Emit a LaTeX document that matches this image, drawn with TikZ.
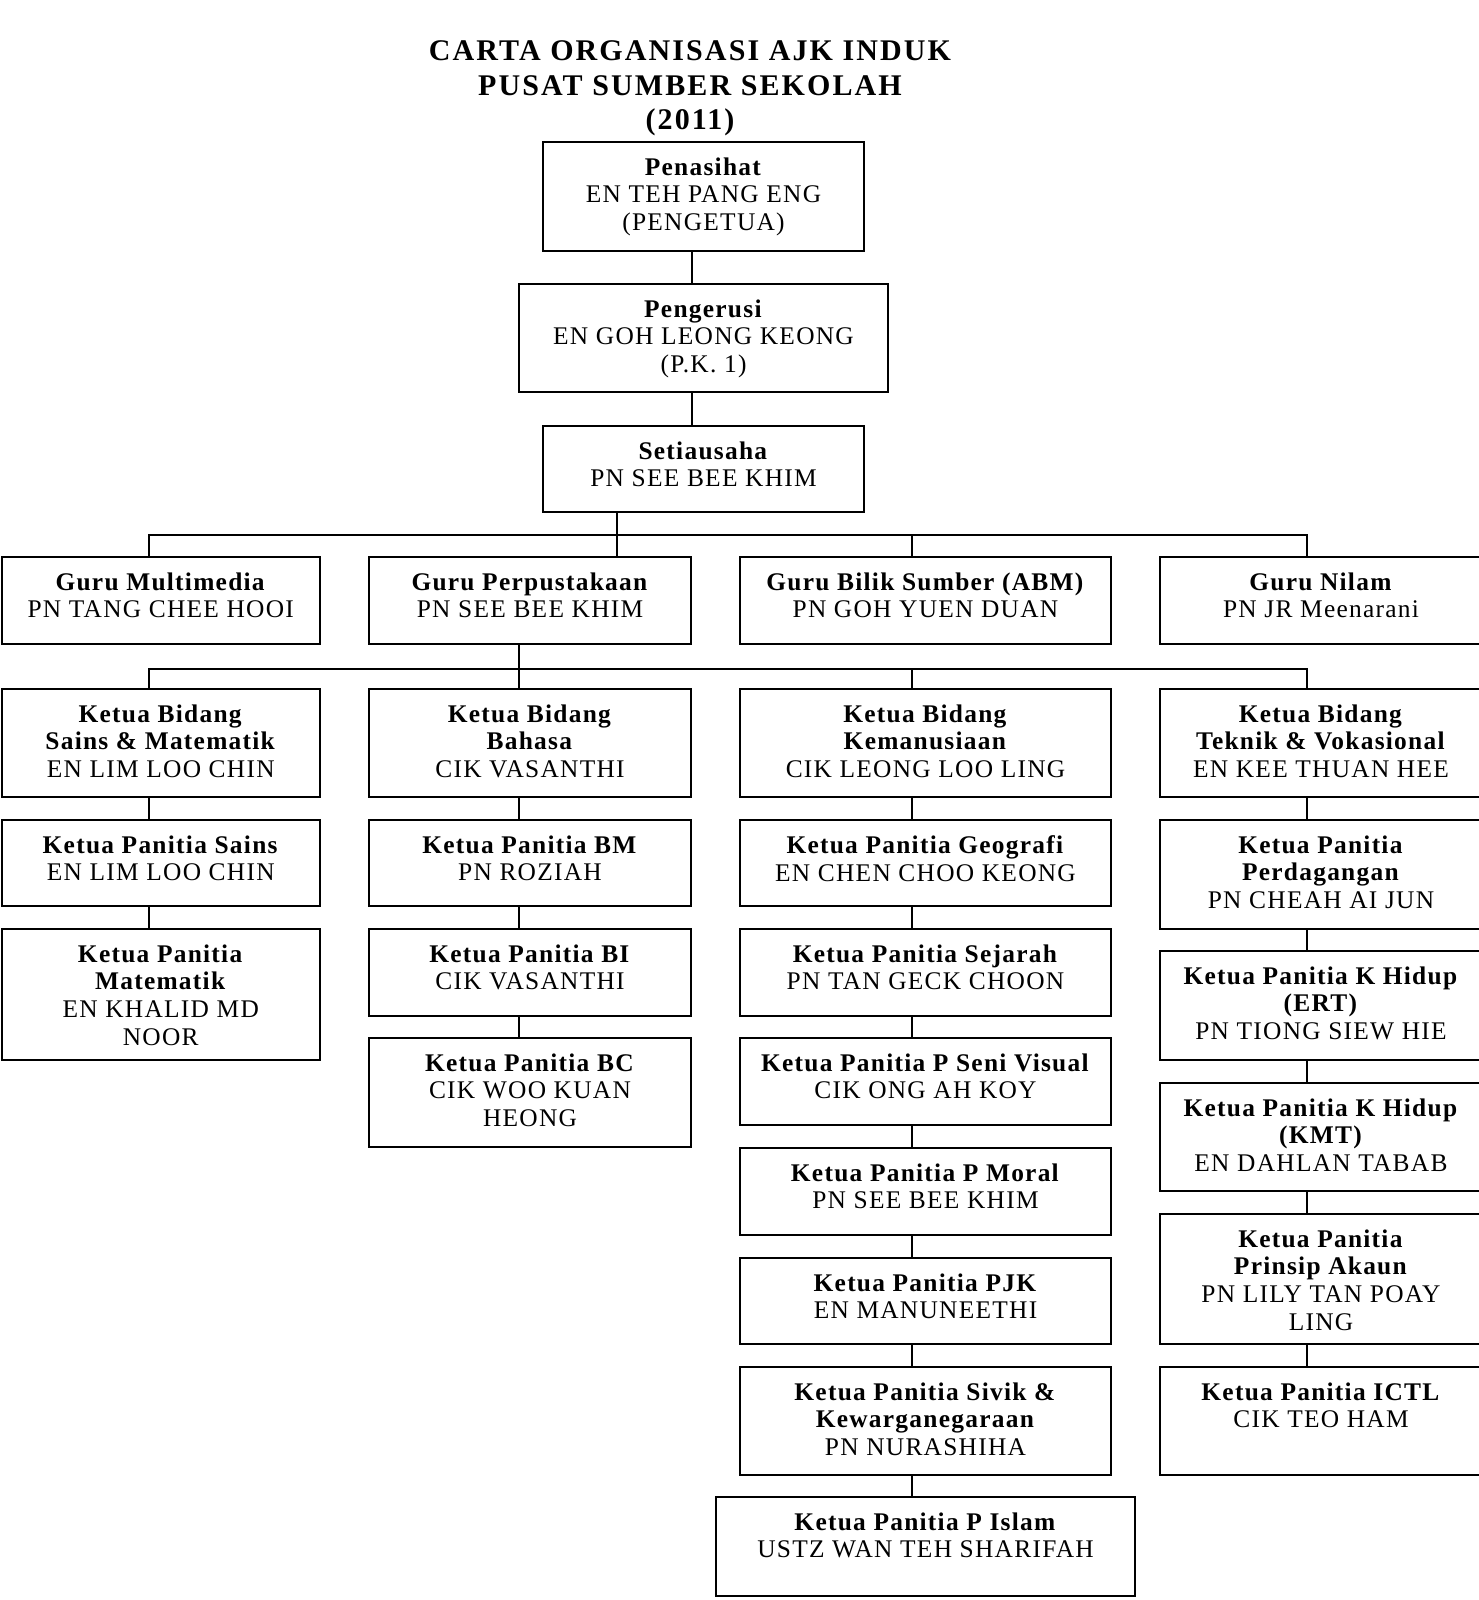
\documentclass[tikz,border=0pt]{standalone}
\usepackage{fontspec}
\setmainfont{Liberation Serif}[LetterSpace=5]
\newfontfamily\titlefont{Liberation Serif}[LetterSpace=7]
\tikzset{
  box/.style={draw=black, line width=1pt, inner sep=0pt, outer sep=0pt, fill=none},
  txt/.style={inner sep=0pt, align=center, font=\fontsize{12.7}{13.8}\selectfont},
  conn/.style={draw=black, line width=1pt},
  ttl/.style={inner sep=0pt, anchor=base, font=\titlefont\bfseries\fontsize{15}{17}\selectfont}
}
\newcommand\bx[6]{%
  \node[box, anchor=north west, minimum width={(#4-#2)*0.5pt}, minimum height={(#5-#3)*0.5pt}] (#1) at (#2,#3) {};
  \node[txt, anchor=north] (#1t) at ([yshift=-7.6pt]#1.north) {#6};
}
\begin{document}
\begin{tikzpicture}[x=0.5pt, y=-0.5pt]
\useasboundingbox (0,0) rectangle (1478,1600);
% title
\node[ttl] (t1) at (690,61) {CARTA ORGANISASI AJK INDUK};
\node[ttl] (t2) at (690,95.5) {PUSAT SUMBER SEKOLAH};
\node[ttl] (t3) at (690,129.5) {(2011)};
% top chain
\bx{pen}{543}{142}{864}{251}{\textbf{Penasihat}\\EN TEH PANG ENG\\(PENGETUA)}
\bx{peng}{519}{284}{888}{392}{\textbf{Pengerusi}\\EN GOH LEONG KEONG\\(P.K. 1)}
\bx{sec}{543}{426}{864}{512}{\textbf{Setiausaha}\\PN SEE BEE KHIM}
% row 1
\bx{mm}{1.5}{557}{320}{644}{\textbf{Guru Multimedia}\\PN TANG CHEE HOOI}
\bx{gp}{369}{557}{691}{644}{\textbf{Guru Perpustakaan}\\PN SEE BEE KHIM}
\bx{gb}{740}{557}{1111}{644}{\textbf{Guru Bilik Sumber (ABM)}\\PN GOH YUEN DUAN}
\bx{gn}{1160}{557}{1482}{644}{\textbf{Guru Nilam}\\PN JR Meenarani}
% row 2
\bx{kb1}{1.5}{689}{320}{797}{\textbf{Ketua Bidang}\\\textbf{Sains \& Matematik}\\EN LIM LOO CHIN}
\bx{kb2}{369}{689}{691}{797}{\textbf{Ketua Bidang}\\\textbf{Bahasa}\\CIK VASANTHI}
\bx{kb3}{740}{689}{1111}{797}{\textbf{Ketua Bidang}\\\textbf{Kemanusiaan}\\CIK LEONG LOO LING}
\bx{kb4}{1160}{689}{1482}{797}{\textbf{Ketua Bidang}\\\textbf{Teknik \& Vokasional}\\EN KEE THUAN HEE}
% column 1
\bx{a1}{1.5}{820}{320}{906}{\textbf{Ketua Panitia Sains}\\EN LIM LOO CHIN}
\bx{a2}{1.5}{929}{320}{1060}{\textbf{Ketua Panitia}\\\textbf{Matematik}\\EN KHALID MD\\NOOR}
% column 2
\bx{b1}{369}{820}{691}{906}{\textbf{Ketua Panitia BM}\\PN ROZIAH}
\bx{b2}{369}{929}{691}{1016}{\textbf{Ketua Panitia BI}\\CIK VASANTHI}
\bx{b3}{369}{1038}{691}{1147}{\textbf{Ketua Panitia BC}\\CIK WOO KUAN\\HEONG}
% column 3
\bx{c1}{740}{820}{1111}{906}{\textbf{Ketua Panitia Geografi}\\EN CHEN CHOO KEONG}
\bx{c2}{740}{929}{1111}{1016}{\textbf{Ketua Panitia Sejarah}\\PN TAN GECK CHOON}
\bx{c3}{740}{1038}{1111}{1125}{\textbf{Ketua Panitia P Seni Visual}\\CIK ONG AH KOY}
\bx{c4}{740}{1148}{1111}{1235}{\textbf{Ketua Panitia P Moral}\\PN SEE BEE KHIM}
\bx{c5}{740}{1258}{1111}{1344}{\textbf{Ketua Panitia PJK}\\EN MANUNEETHI}
\bx{c6}{740}{1367}{1111}{1475}{\textbf{Ketua Panitia Sivik \&}\\\textbf{Kewarganegaraan}\\PN NURASHIHA}
\bx{c7}{716}{1497}{1135}{1596}{\textbf{Ketua Panitia P Islam}\\USTZ WAN TEH SHARIFAH}
% column 4
\bx{d1}{1160}{820}{1482}{929}{\textbf{Ketua Panitia}\\\textbf{Perdagangan}\\PN CHEAH AI JUN}
\bx{d2}{1160}{951}{1482}{1060}{\textbf{Ketua Panitia K Hidup}\\\textbf{(ERT)}\\PN TIONG SIEW HIE}
\bx{d3}{1160}{1083}{1482}{1191}{\textbf{Ketua Panitia K Hidup}\\\textbf{(KMT)}\\EN DAHLAN TABAB}
\bx{d4}{1160}{1214}{1482}{1344}{\textbf{Ketua Panitia}\\\textbf{Prinsip Akaun}\\PN LILY TAN POAY\\LING}
\bx{d5}{1160}{1367}{1482}{1475}{\textbf{Ketua Panitia ICTL}\\CIK TEO HAM}
% connector x positions and bus levels
\coordinate (xt) at (692,0);
\coordinate (xs) at (617,0);
\coordinate (x1) at (149,0);
\coordinate (x2) at (519,0);
\coordinate (x3) at (912,0);
\coordinate (x4) at (1307,0);
\coordinate (bus1) at (0,535);
\coordinate (bus2) at (0,669);
% top chain
\draw[conn] (pen.south -| xt) -- (peng.north -| xt);
\draw[conn] (peng.south -| xt) -- (sec.north -| xt);
\draw[conn] (sec.south -| xs) -- (gp.north -| xs);
% bus 1
\draw[conn] (mm.north -| x1) -- (x1 |- bus1) -- (x4 |- bus1) -- (gn.north -| x4);
\draw[conn] (x3 |- bus1) -- (gb.north -| x3);
% bus 2
\draw[conn] (gp.south -| x2) -- (kb2.north -| x2);
\draw[conn] (kb1.north -| x1) -- (x1 |- bus2) -- (x4 |- bus2) -- (kb4.north -| x4);
\draw[conn] (x3 |- bus2) -- (kb3.north -| x3);
% columns
\draw[conn] (kb1.south -| x1) -- (a1.north -| x1);
\draw[conn] (a1.south -| x1) -- (a2.north -| x1);
\draw[conn] (kb2.south -| x2) -- (b1.north -| x2);
\draw[conn] (b1.south -| x2) -- (b2.north -| x2);
\draw[conn] (b2.south -| x2) -- (b3.north -| x2);
\draw[conn] (kb3.south -| x3) -- (c1.north -| x3);
\draw[conn] (c1.south -| x3) -- (c2.north -| x3);
\draw[conn] (c2.south -| x3) -- (c3.north -| x3);
\draw[conn] (c3.south -| x3) -- (c4.north -| x3);
\draw[conn] (c4.south -| x3) -- (c5.north -| x3);
\draw[conn] (c5.south -| x3) -- (c6.north -| x3);
\draw[conn] (c6.south -| x3) -- (c7.north -| x3);
\draw[conn] (kb4.south -| x4) -- (d1.north -| x4);
\draw[conn] (d1.south -| x4) -- (d2.north -| x4);
\draw[conn] (d2.south -| x4) -- (d3.north -| x4);
\draw[conn] (d3.south -| x4) -- (d4.north -| x4);
\draw[conn] (d4.south -| x4) -- (d5.north -| x4);
\end{tikzpicture}
\end{document}
